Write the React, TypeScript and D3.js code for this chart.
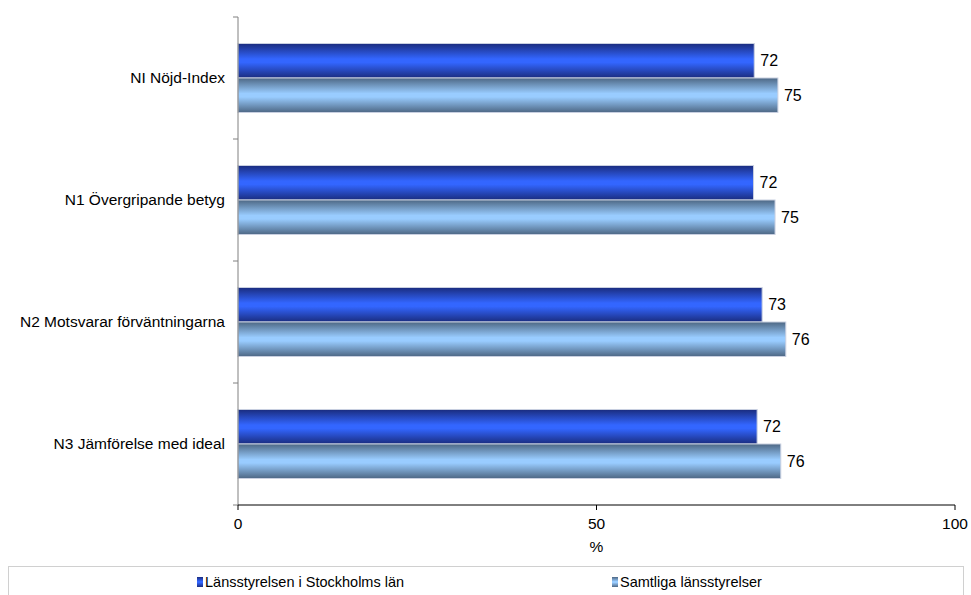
import React from "react";
import * as d3 from "d3";

const categories = ["NI Nöjd-Index", "N1 Övergripande betyg", "N2 Motsvarar förväntningarna", "N3 Jämförelse med ideal"];
const seriesNames = ["Länsstyrelsen i Stockholms län", "Samtliga länsstyrelser"];
const stockholm = [72.0, 71.9, 73.1, 72.4];
const samtliga = [75.3, 74.9, 76.4, 75.7];
const xTicks = [0, 50, 100];

const W = 971, H = 595;
const left = 238, right = 955, top = 17, bottom = 505;

export default function App() {
  const x = d3.scaleLinear().domain([0, 100]).range([left, right]);
  const y = d3.scaleBand<string>().domain(categories).range([top, bottom]).paddingInner(0).paddingOuter(0);
  const bw = y.bandwidth();
  const barH = 34.5;
  const series = [stockholm, samtliga];
  const gradIds = ["gDark", "gLight"];
  const fmt = d3.format(".0f");
  const font = "Arial, 'Liberation Sans', sans-serif";
  const catTicks = [top, ...categories.map((c) => (y(c) as number) + bw)];
  return (
    <svg width={W} height={H} style={{ position: "absolute", left: 0, top: 0 }} fontFamily={font}>
      <defs>
        <linearGradient id="gDark" x1="0" y1="0" x2="0" y2="1">
          <stop offset="0" stopColor="#1a2c7e" />
          <stop offset="0.45" stopColor="#3366ff" />
          <stop offset="0.55" stopColor="#3366ff" />
          <stop offset="1" stopColor="#1a2c7e" />
        </linearGradient>
        <linearGradient id="gLight" x1="0" y1="0" x2="0" y2="1">
          <stop offset="0" stopColor="#4d6784" />
          <stop offset="0.45" stopColor="#99ccff" />
          <stop offset="0.55" stopColor="#99ccff" />
          <stop offset="1" stopColor="#4d6784" />
        </linearGradient>
      </defs>
      <rect width={W} height={H} fill="#fff" />
      {categories.map((c, i) => {
        const cy = (y(c) as number) + bw / 2;
        return (
          <g key={c}>
            {series.map((s, k) => {
              const by = cy - barH + k * barH;
              return (
                <g key={k}>
                  <rect x={x(0)} y={by} width={x(s[i]) - x(0)} height={barH} fill={`url(#${gradIds[k]})`} stroke="#c8cfe0" strokeWidth={1} />
                  <text x={x(s[i]) + 6} y={by + barH / 2} dy="0.35em" fontSize={16} fill="#000">{fmt(s[i])}</text>
                </g>
              );
            })}
            <text x={225} y={cy} dy="0.35em" textAnchor="end" fontSize={15.5} fill="#000">{c}</text>
          </g>
        );
      })}
      <line x1={left} x2={left} y1={top} y2={bottom} stroke="#808080" />
      {catTicks.map((t, i) => (
        <line key={i} x1={left - 5} x2={left} y1={t} y2={t} stroke="#808080" />
      ))}
      <line x1={left} x2={right} y1={bottom} y2={bottom} stroke="#000" />
      {xTicks.map((t) => (
        <g key={t}>
          <line x1={x(t)} x2={x(t)} y1={bottom} y2={bottom + 5} stroke="#000" />
          <text x={x(t)} y={524} dy="0.35em" textAnchor="middle" fontSize={15.5}>{t}</text>
        </g>
      ))}
      <text x={x(50)} y={547} dy="0.35em" textAnchor="middle" fontSize={15.5}>%</text>
      <rect x={8.5} y={566.5} width={955} height={40} fill="#fff" stroke="#d0d0d0" />
      {seriesNames.map((n, k) => {
        const lx = k === 0 ? 197 : 612;
        return (
          <g key={n}>
            <rect x={lx} y={577} width={6} height={10} fill={`url(#${gradIds[k]})`} />
            <text x={lx + 8} y={582} dy="0.35em" fontSize={14.5}>{n}</text>
          </g>
        );
      })}
    </svg>
  );
}
